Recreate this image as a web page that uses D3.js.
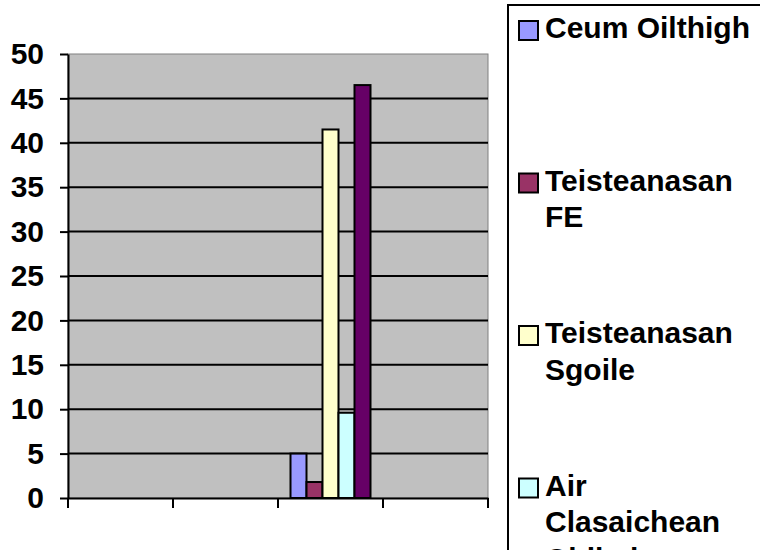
<!DOCTYPE html>
<html>
<head>
<meta charset="utf-8">
<script src="https://cdn.jsdelivr.net/npm/d3@7"></script>
<style>
  body { margin: 0; background: #fff; }
  svg { display: block; font-family: "Liberation Sans", Arial, sans-serif; font-weight: bold; }
</style>
</head>
<body>
<script>
// data
var categories = ["c1", "c2", "c3", "c4"];
var seriesNames = ["Ceum Oilthigh", "Teisteanasan FE", "Teisteanasan Sgoile",
                   "Air Clasaichean Oidhche Gàidhlig", "Gun Teisteanas"];
var seriesColors = ["#9999ff", "#993366", "#ffffcc", "#ccffff", "#660066"];
var ceumOilthigh = [null, null, 5, null];
var teisteanasanFE = [null, null, 1.8, null];
var teisteanasanSgoile = [null, null, 41.5, null];
var airClasaichean = [null, null, 9.6, null];
var gunTeisteanas = [null, null, 46.5, null];
var yTicks = [0, 5, 10, 15, 20, 25, 30, 35, 40, 45, 50];

var seriesValues = [ceumOilthigh, teisteanasanFE, teisteanasanSgoile, airClasaichean, gunTeisteanas];

var W = 760, H = 550;
var plot = {left: 68, right: 488, top: 54, bottom: 498};

var svg = d3.select("body").append("svg")
            .attr("width", W)
            .attr("height", H);

var x0 = d3.scaleBand().domain(categories).range([plot.left, plot.right]);
var x1 = d3.scaleBand().domain(seriesNames).range([12.5, x0.bandwidth() - 12.5]);
var y = d3.scaleLinear().domain([0, 50]).range([plot.bottom, plot.top]);

// plot background
svg.append("rect")
   .attr("x", plot.left)
   .attr("y", plot.top)
   .attr("width", plot.right - plot.left)
   .attr("height", plot.bottom - plot.top)
   .attr("fill", "#c0c0c0")
   .attr("stroke", "#808080")
   .attr("stroke-width", 1);

// gridlines
svg.selectAll("line.grid")
   .data(yTicks.filter(function(d) { return d > 0 && d < 50; }))
   .enter()
   .append("line")
   .attr("class", "grid")
   .attr("x1", plot.left)
   .attr("x2", plot.right)
   .attr("y1", function(d) { return y(d); })
   .attr("y2", function(d) { return y(d); })
   .attr("stroke", "#000")
   .attr("stroke-width", 2);

// bars
var rows = [];
categories.forEach(function(c, i) {
  seriesNames.forEach(function(s, j) {
    var v = seriesValues[j][i];
    if (v != null) rows.push({cat: c, name: s, value: v, color: seriesColors[j]});
  });
});

svg.selectAll("rect.bar")
   .data(rows)
   .enter()
   .append("rect")
   .attr("class", "bar")
   .attr("x", function(d) { return x0(d.cat) + x1(d.name); })
   .attr("y", function(d) { return y(d.value); })
   .attr("width", x1.bandwidth())
   .attr("height", function(d) { return y(0) - y(d.value); })
   .attr("fill", function(d) { return d.color; })
   .attr("stroke", "#000")
   .attr("stroke-width", 2);

// y axis
var yAxis = svg.append("g")
   .attr("transform", "translate(" + plot.left + ",0)")
   .call(d3.axisLeft(y).tickValues(yTicks).tickSize(8).tickPadding(16).tickSizeOuter(0));
yAxis.select(".domain").attr("stroke-width", 2);
yAxis.selectAll(".tick line").attr("stroke-width", 2);
yAxis.selectAll("text")
   .attr("font-size", 30)
   .attr("font-family", "'Liberation Sans', Arial, sans-serif")
   .attr("font-weight", "bold")
   .attr("fill", "#000");

// x axis (no category labels)
var xAxis = svg.append("g")
   .attr("transform", "translate(0," + plot.bottom + ")")
   .call(d3.axisBottom(x0).tickSize(0).tickFormat(function() { return ""; }));
xAxis.select(".domain").attr("stroke-width", 2);
var edges = categories.map(function(c) { return x0(c); }).concat([plot.right]);
xAxis.selectAll("line.edge")
   .data(edges)
   .enter()
   .append("line")
   .attr("class", "edge")
   .attr("x1", function(d) { return d; })
   .attr("x2", function(d) { return d; })
   .attr("y1", 0)
   .attr("y2", 10)
   .attr("stroke", "#000")
   .attr("stroke-width", 2);

// legend
var legend = svg.append("g");
legend.append("rect")
   .attr("x", 508)
   .attr("y", 5)
   .attr("width", 300)
   .attr("height", 700)
   .attr("fill", "#fff")
   .attr("stroke", "#000")
   .attr("stroke-width", 2);

var items = legend.selectAll("g.item")
   .data(seriesNames)
   .enter()
   .append("g")
   .attr("class", "item")
   .attr("transform", function(d, i) { return "translate(0," + (i * 152.5) + ")"; });

items.append("rect")
   .attr("x", 519)
   .attr("y", 21)
   .attr("width", 19)
   .attr("height", 19)
   .attr("fill", function(d, i) { return seriesColors[i]; })
   .attr("stroke", "#000")
   .attr("stroke-width", 2);

items.append("text")
   .attr("x", 545)
   .attr("y", 38)
   .attr("font-size", 30)
   .attr("fill", "#000")
   .each(function(d) {
     var t = d3.select(this);
     var words = d.split(" ");
     var line = [];
     var ts = t.append("tspan").attr("x", 545).attr("dy", 0);
     words.forEach(function(w) {
       line.push(w);
       ts.text(line.join(" "));
       if (ts.node().getComputedTextLength() > 214 && line.length > 1) {
         line.pop();
         ts.text(line.join(" "));
         line = [w];
         ts = t.append("tspan").attr("x", 545).attr("dy", 36.5).text(w);
       }
     });
   });
</script>
</body>
</html>
